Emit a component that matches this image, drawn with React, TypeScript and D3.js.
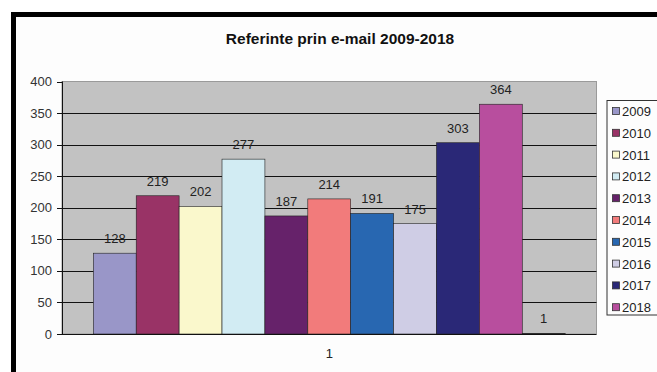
import React from "react";
import * as d3 from "d3";

const categories = ["1"];
const seriesNames = ["2009", "2010", "2011", "2012", "2013", "2014", "2015", "2016", "2017", "2018", ""];
const seriesValues = [128, 219, 202, 277, 187, 214, 191, 175, 303, 364, 1];
const seriesColors = ["#9996C8", "#993366", "#FAF8CC", "#D2ECF3", "#66226A", "#F27B7B", "#2867B1", "#CFCDE5", "#2A2877", "#B84E9E", "#1a1a1a"];
const legendSeries = ["2009", "2010", "2011", "2012", "2013", "2014", "2015", "2016", "2017", "2018"];
const yTicks = [0, 50, 100, 150, 200, 250, 300, 350, 400];
const title = "Referinte prin e-mail 2009-2018";

export default function App() {
  const W = 657, H = 372;
  const plotL = 62, plotR = 596.5, plotT = 81.5, plotB = 334;
  const y = d3.scaleLinear().domain([0, 400]).range([plotB, plotT]);
  const x0 = d3.scaleBand().domain(categories).range([plotL, plotR]).paddingOuter(0.0664).paddingInner(0);
  const x1 = d3.scaleBand().domain(seriesNames.map((_, i) => String(i))).range([0, x0.bandwidth()]).padding(0);
  const font = "'Liberation Sans', Arial, sans-serif";
  const legX = 607, legY = 100.5, legStep = 21.8;

  return (
    <svg width={W} height={H} style={{ position: "absolute", left: 0, top: 0, display: "block" }} fontFamily={font}>
      <rect x={0} y={0} width={W} height={H} fill="#ffffff" />
      {/* black frame */}
      <rect x={13.5} y={14.5} width={W + 20} height={H + 20} fill="#fdfdfd" stroke="#000" strokeWidth={5} />
      <text x={340} y={43.5} textAnchor="middle" fontSize={15.5} fontWeight="bold" fill="#111">{title}</text>
      {/* plot area */}
      <rect x={plotL} y={plotT} width={plotR - plotL} height={plotB - plotT} fill="#C2C2C2" stroke="#9a9a9a" strokeWidth={1} />
      {yTicks.filter(t => t > 0 && t < 400).map(t => (
        <line key={"g" + t} x1={plotL} x2={plotR} y1={Math.round(y(t)) + 0.5} y2={Math.round(y(t)) + 0.5} stroke="#111" strokeWidth={1} />
      ))}
      {/* bars */}
      {categories.map(c => (
        <g key={c} transform={`translate(${x0(c)},0)`}>
          {seriesValues.map((v, i) => (
            <rect key={i} x={x1(String(i))!} y={y(v)} width={x1.bandwidth()} height={Math.max(plotB - y(v), 0.8)}
              fill={seriesColors[i]} stroke="#222" strokeWidth={0.6} />
          ))}
          {seriesValues.map((v, i) => (
            <text key={"l" + i} x={x1(String(i))! + x1.bandwidth() / 2} y={y(v) - 10} textAnchor="middle" fontSize={13} fill="#222">{v}</text>
          ))}
        </g>
      ))}
      {/* axes */}
      <line x1={plotL + 0.5} x2={plotL + 0.5} y1={plotT} y2={plotB} stroke="#111" strokeWidth={1} />
      <line x1={plotL} x2={plotR} y1={plotB + 0.5} y2={plotB + 0.5} stroke="#111" strokeWidth={1.2} />
      {yTicks.map(t => (
        <g key={"t" + t}>
          <line x1={plotL - 5} x2={plotL} y1={Math.round(y(t)) + 0.5} y2={Math.round(y(t)) + 0.5} stroke="#111" strokeWidth={1} />
          <text x={52} y={y(t) + 4.5} textAnchor="end" fontSize={13} fill="#333">{t}</text>
        </g>
      ))}
      {categories.map(c => (
        <text key={"c" + c} x={x0(c)! + x0.bandwidth() / 2} y={358} textAnchor="middle" fontSize={13} fill="#222">{c}</text>
      ))}
      {/* legend */}
      <rect x={legX} y={legY} width={80} height={214.5} fill="#fdfdfd" stroke="#333" strokeWidth={1} />
      {legendSeries.map((s, i) => {
        const idx = seriesNames.indexOf(s);
        const cy = legY + 10.5 + i * legStep;
        return (
          <g key={"lg" + s}>
            <rect x={612.5} y={cy - 3.5} width={7} height={7} fill={seriesColors[idx]} stroke="#333" strokeWidth={0.8} />
            <text x={622} y={cy + 5} fontSize={13} fill="#222">{s}</text>
          </g>
        );
      })}
    </svg>
  );
}
